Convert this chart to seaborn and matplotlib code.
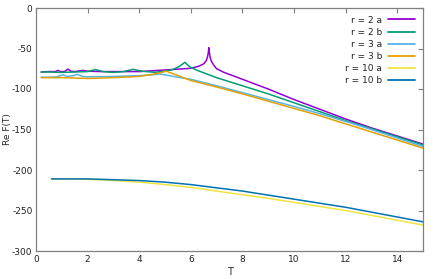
import numpy as np
import pandas as pd
import matplotlib
matplotlib.use("Agg")
import matplotlib.pyplot as plt
import seaborn as sns

# ---- data ----
labels = ["r = 2 a", "r = 2 b", "r = 3 a", "r = 3 b", "r = 10 a", "r = 10 b"]
colors = ["#9400d3", "#009e73", "#56b4e9", "#e69f00", "#f0e442", "#0072b2"]

T_2a = [0.2, 0.5, 0.75, 0.85, 0.95, 1.1, 1.24, 1.35, 1.5, 1.83, 2.0, 2.5, 3.0, 3.5, 4.0, 4.5, 5.0, 5.5,
        6.0, 6.3, 6.5, 6.6, 6.65, 6.68, 6.7, 6.72, 6.75, 6.8, 6.9, 7.0, 7.25, 7.5, 8.0, 8.5, 9.0,
        10, 11, 12, 13, 14, 15]
F_2a = [-79, -78.5, -78.5, -77, -78.5, -78.5, -75.5, -78, -78.5, -77, -78, -78.5, -78.5, -78.5, -78.5,
        -77.5, -76.5, -75.5, -74.5, -72, -69, -65, -60, -55, -49, -55, -61, -66, -71, -75, -79, -82,
        -88, -94, -100, -113, -125, -137, -148, -158, -168]

T_2b = [0.2, 0.5, 1.0, 1.5, 2.0, 2.3, 2.6, 3.0, 3.4, 3.75, 4.1, 4.6, 5.0, 5.3, 5.5, 5.65, 5.77, 5.9,
        6.0, 6.25, 6.5, 7, 7.5, 8, 9, 10, 11, 12, 13, 14, 15]
F_2b = [-79, -79, -79.5, -79, -78.5, -76, -78.5, -79.5, -78.5, -75.7, -78, -79.4, -78, -76, -73, -70,
        -67, -71, -73.5, -77, -80, -86, -91, -96, -106, -117, -128, -139, -149, -159, -169]

T_3a = [0.2, 0.5, 0.8, 0.95, 1.05, 1.2, 1.45, 1.6, 1.8, 2.0, 3.0, 4.0, 4.5, 4.8, 5.0, 5.5, 6.0, 7, 8,
        9, 10, 11, 12, 13, 14, 15]
F_3a = [-85.5, -85.5, -85, -83.5, -82.5, -84.5, -83.5, -82, -84.5, -85, -84.5, -83.5, -82.5, -81.5,
        -82.5, -85.5, -88, -96, -104.5, -113, -121.5, -130.5, -140, -150, -160.5, -171]

T_3b = [0.2, 1.0, 2.0, 2.5, 3.0, 4.0, 4.5, 4.8, 5.05, 5.3, 6.0, 7, 8, 9, 10, 11, 12, 13, 14, 15]
F_3b = [-86, -86, -87, -86.5, -86, -84.5, -82, -80, -78, -81, -89.5, -97.5, -106, -115, -124, -133,
        -143, -153, -163, -173]

T_10 = [0.6, 1, 2, 3, 4, 5, 6, 7, 8, 9, 10, 11, 12, 13, 14, 15]
F_10a = [-211, -211, -211.5, -213, -215, -218, -221.5, -226, -230.5, -235, -240, -245, -250, -256, -262, -268]
F_10b = [-211, -211, -211, -212, -213, -215, -218, -222, -226, -231, -236, -241, -246, -252, -258, -264]

series = [(T_2a, F_2a), (T_2b, F_2b), (T_3a, F_3a), (T_3b, F_3b), (T_10, F_10a), (T_10, F_10b)]

frames = []
for lab, (t, f) in zip(labels, series):
    frames.append(pd.DataFrame({"T": t, "F": f, "series": lab}))
df = pd.concat(frames, ignore_index=True)

sns.set_style("white")
plt.rcParams["font.family"] = ["DejaVu Sans"]
plt.rcParams["axes.unicode_minus"] = False

fig = plt.figure(figsize=(4.36, 2.79), dpi=100)
ax = fig.add_axes([36 / 436, 28 / 279, 387 / 436, 243 / 279])

sns.lineplot(data=df, x="T", y="F", hue="series", hue_order=labels,
             palette=dict(zip(labels, colors)), sort=False, estimator=None,
             linewidth=1.1, ax=ax, legend=False)

ax.set_xlim(0, 15)
ax.set_ylim(-300, 0)
ax.set_xticks(np.arange(0, 15, 2))
ax.set_yticks(np.arange(-300, 1, 50))
ax.tick_params(direction="in", length=3.5, width=0.8, color="#808080",
               labelsize=6.5, top=True, right=True, labelcolor="#222222")
ax.tick_params(axis="x", pad=3)
ax.tick_params(axis="y", pad=2.5)
for s in ax.spines.values():
    s.set_color("#808080")
    s.set_linewidth(0.9)
ax.set_xlabel("T", fontsize=7, labelpad=2)
ax.set_ylabel("Re F(T)", fontsize=6.5, va="center")
ax.yaxis.set_label_coords(-0.073, 0.5)

handles = ax.get_lines()[:len(labels)]
leg = ax.legend(handles, labels, loc="upper right", frameon=False, markerfirst=False,
                fontsize=6.5, handlelength=3.0, handletextpad=0.6, labelspacing=0.35,
                borderaxespad=0.3, bbox_to_anchor=(0.995, 0.995))
for t in leg.get_texts():
    t.set_ha("right")
    t.set_color("#222222")
leg._legend_box.align = "right"
for h in leg.legend_handles:
    h.set_linewidth(1.3)

fig.savefig("out.png", dpi=100)
